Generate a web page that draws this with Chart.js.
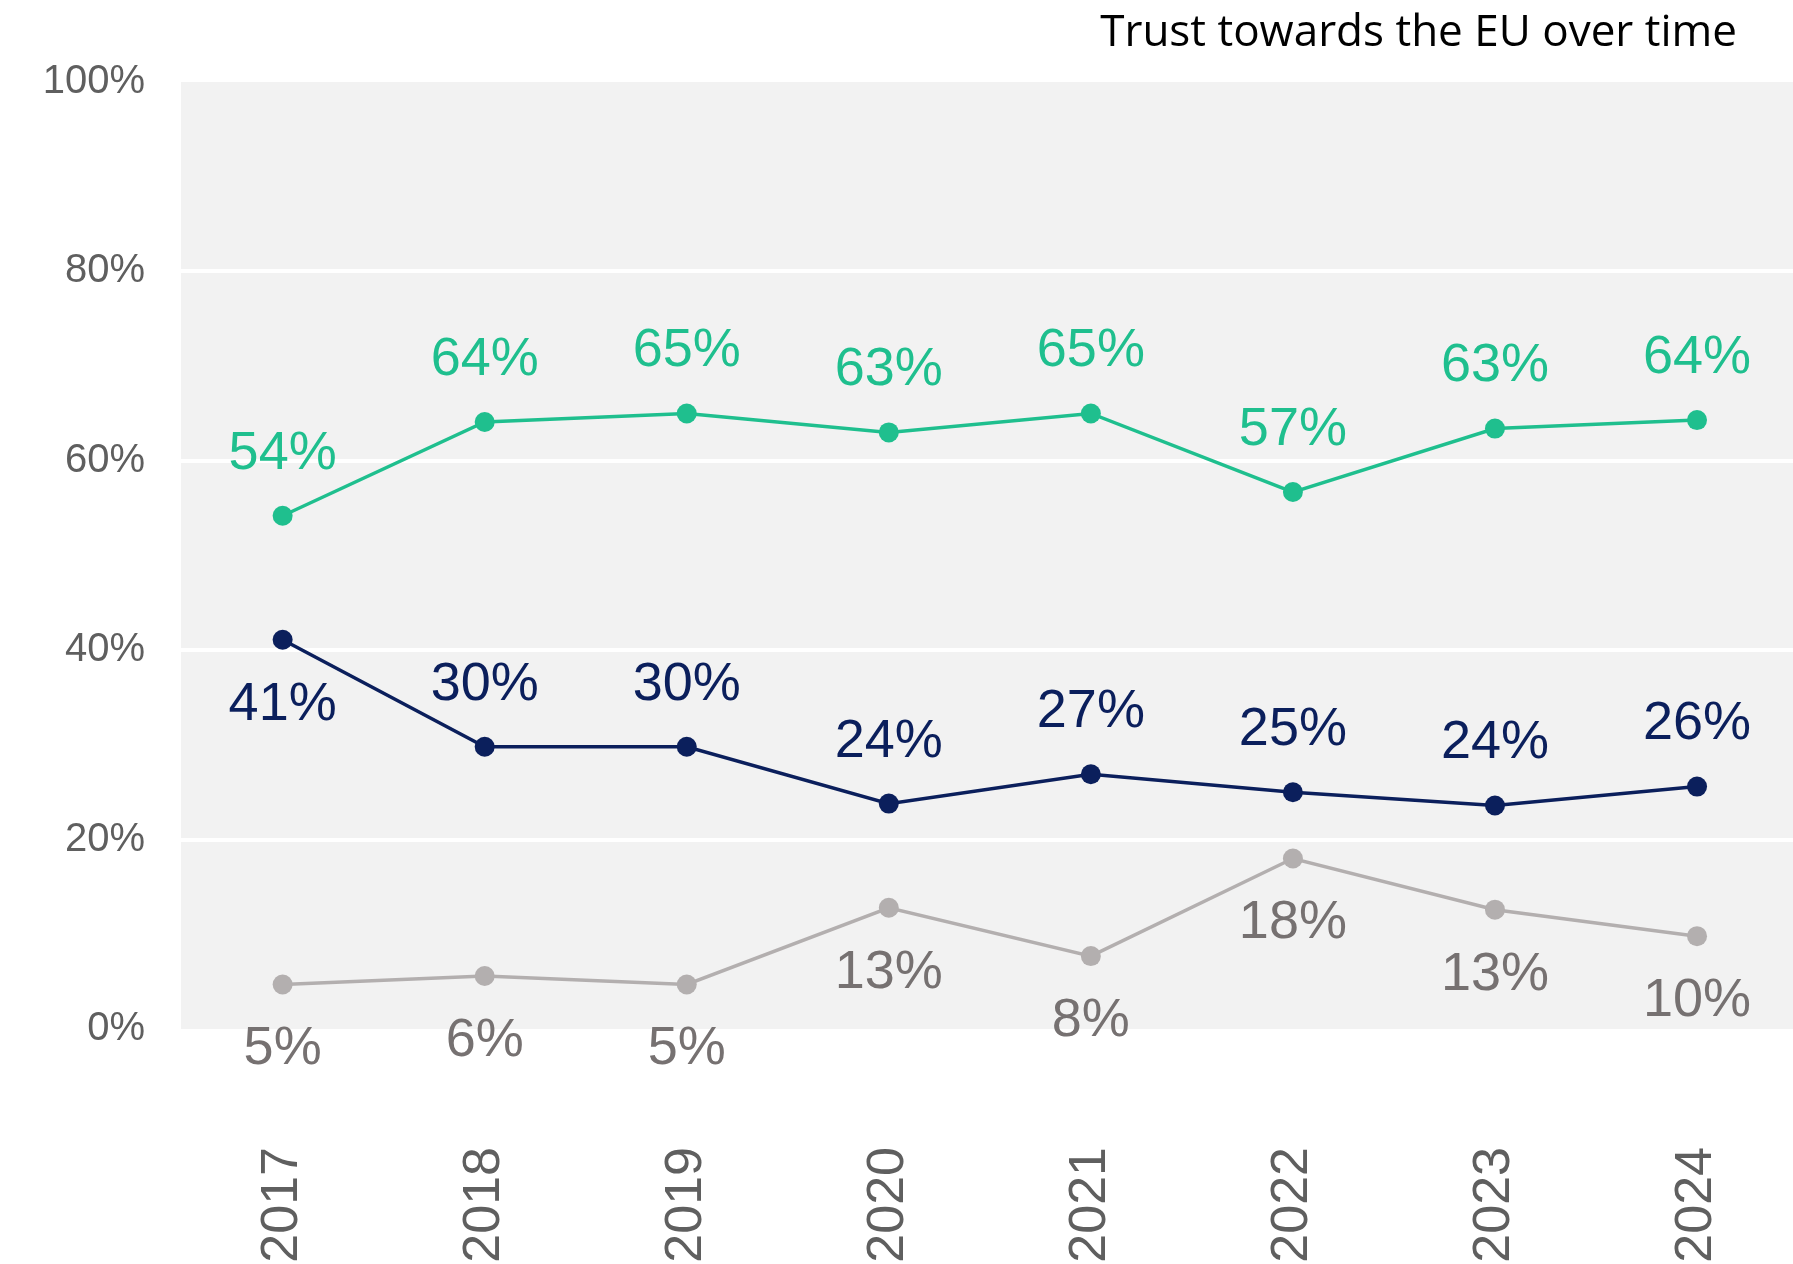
<!DOCTYPE html>
<html>
<head>
<meta charset="utf-8">
<script src="https://cdn.jsdelivr.net/npm/chart.js@4.4.1/dist/chart.umd.min.js"></script>
<style>
    html, body { margin: 0; padding: 0; background: #fff; overflow: hidden; }
    #wrap { width: 1793px; height: 1264px; }
    canvas { display: block; }
</style>
</head>
<body>
<div id="wrap"><canvas id="trust-chart" width="1793" height="1264"></canvas></div>
<script>
// values
const years = ['2017', '2018', '2019', '2020', '2021', '2022', '2023', '2024'];
const trustValues = [54.2, 64.1, 65.0, 63.0, 65.0, 56.7, 63.4, 64.3];
const distrustValues = [41.1, 29.8, 29.8, 23.8, 26.9, 25.0, 23.6, 25.6];
const dontKnowValues = [4.7, 5.6, 4.7, 12.8, 7.7, 18.0, 12.6, 9.8];
const yTickValues = [0, 20, 40, 60, 80, 100];
const chartTitle = 'Trust towards the EU over time';

const GREEN = '#1fbf8e';
const NAVY = '#0b1f5c';
const GREY_LINE = '#b3afaf';
const GREY_TEXT = '#767171';
const AXIS_TEXT = '#5f5f5f';

function toPoints(values) {
    return values.map((v, i) => ({x: i, y: v}));
}

const plotBackground = {
    id: 'plotBackground',
    beforeDraw(chart) {
        const {ctx, chartArea} = chart;
        ctx.save();
        ctx.fillStyle = '#f2f2f2';
        ctx.fillRect(chartArea.left, chartArea.top, chartArea.right - chartArea.left, chartArea.bottom - chartArea.top);
        ctx.restore();
    }
};

const valueLabels = {
    id: 'valueLabels',
    afterDatasetsDraw(chart) {
        const ctx = chart.ctx;
        ctx.save();
        ctx.font = '54px "Liberation Sans", Arial, sans-serif';
        ctx.textAlign = 'center';
        ctx.textBaseline = 'middle';
        chart.data.datasets.forEach((ds, di) => {
            const meta = chart.getDatasetMeta(di);
            meta.data.forEach((pt, i) => {
                const below = ds.labelBelow(i);
                ctx.fillStyle = ds.labelColor;
                ctx.fillText(Math.round(ds.data[i].y) + '%', pt.x, pt.y + (below ? 65 : -62));
            });
        });
        ctx.restore();
    }
};

const titlePlugin = {
    id: 'titlePlugin',
    afterDraw(chart) {
        const ctx = chart.ctx;
        ctx.save();
        ctx.font = '44px "Open Sans", sans-serif';
        ctx.fillStyle = '#000';
        ctx.textAlign = 'right';
        ctx.textBaseline = 'middle';
        ctx.fillText(chartTitle, 1737, 33);
        ctx.restore();
    }
};

new Chart(document.getElementById('trust-chart').getContext('2d'), {
    type: 'line',
    data: {
        datasets: [
            {
                label: 'Tend to trust',
                data: toPoints(trustValues),
                borderColor: GREEN,
                backgroundColor: GREEN,
                labelColor: GREEN,
                labelBelow: () => false,
                borderWidth: 3.5,
                pointRadius: 10,
                pointBorderWidth: 0,
                tension: 0
            },
            {
                label: 'Tend not to trust',
                data: toPoints(distrustValues),
                borderColor: NAVY,
                backgroundColor: NAVY,
                labelColor: NAVY,
                labelBelow: (i) => i === 0,
                borderWidth: 3.5,
                pointRadius: 10,
                pointBorderWidth: 0,
                tension: 0
            },
            {
                label: "Don't know",
                data: toPoints(dontKnowValues),
                borderColor: GREY_LINE,
                backgroundColor: GREY_LINE,
                labelColor: GREY_TEXT,
                labelBelow: () => true,
                borderWidth: 3.5,
                pointRadius: 10,
                pointBorderWidth: 0,
                tension: 0
            }
        ]
    },
    options: {
        responsive: false,
        animation: false,
        layout: {
            autoPadding: false,
            padding: {top: 82, left: 0, right: 0, bottom: 0}
        },
        plugins: {
            legend: {display: false},
            tooltip: {enabled: false}
        },
        scales: {
            x: {
                type: 'linear',
                min: -0.503,
                max: 7.475,
                afterBuildTicks: (scale) => {
                    scale.ticks = years.map((_, i) => ({value: i}));
                },
                afterFit: (scale) => {
                    scale.height = 235;
                    scale.paddingLeft = 0;
                    scale.paddingRight = 0;
                },
                grid: {
                    display: true,
                    drawOnChartArea: false,
                    drawTicks: true,
                    tickLength: 107,
                    color: 'rgba(0,0,0,0)'
                },
                border: {display: false},
                ticks: {
                    autoSkip: false,
                    minRotation: 90,
                    maxRotation: 90,
                    padding: 11,
                    color: AXIS_TEXT,
                    font: {family: '"Liberation Sans", Arial, sans-serif', size: 52},
                    callback: (v) => years[v] ?? ''
                }
            },
            y: {
                min: 0,
                max: 100,
                afterBuildTicks: (scale) => {
                    scale.ticks = yTickValues.map((v) => ({value: v}));
                },
                afterFit: (scale) => {
                    scale.width = 181;
                },
                grid: {
                    color: (c) => (c.tick.value === 0 || c.tick.value === 100) ? 'rgba(0,0,0,0)' : '#ffffff',
                    lineWidth: 4,
                    drawTicks: false
                },
                border: {display: false},
                ticks: {
                    padding: 36,
                    color: AXIS_TEXT,
                    font: {family: '"Liberation Sans", Arial, sans-serif', size: 40},
                    callback: (v) => v + '%'
                }
            }
        }
    },
    plugins: [plotBackground, valueLabels, titlePlugin]
});
</script>
</body>
</html>
